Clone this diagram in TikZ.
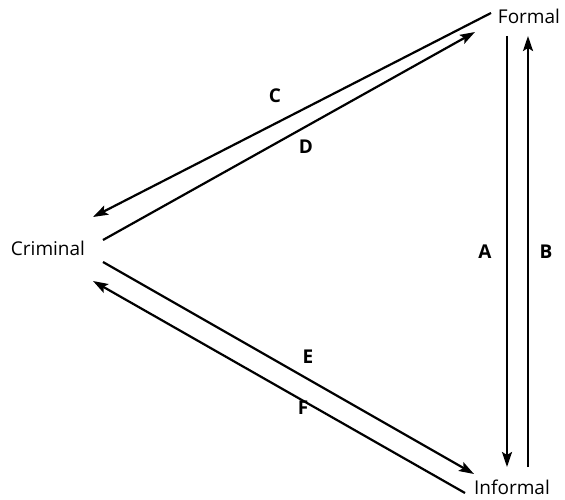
\documentclass[tikz,border=0pt]{standalone}
\usepackage{fontspec}
\setmainfont{Open Sans}
\usetikzlibrary{arrows.meta}
\begin{document}
\begin{tikzpicture}[x=1pt,y=-1pt,
  lbl/.style={font=\fontsize{19}{22}\selectfont},
  blbl/.style={font=\fontsize{19}{22}\selectfont\bfseries},
  conn/.style={line width=2.2pt},
  arr/.style={conn,-{Stealth[length=15pt,width=10pt,inset=3pt]}}]
\useasboundingbox (0,0) rectangle (565,500);
\node[lbl] (formal) at (529,16) {Formal};
\node[lbl] (informal) at (512,487) {Informal};
\node[lbl] (criminal) at (48,248) {Criminal};
\coordinate (c1) at (491,13);
\coordinate (c2) at (93,217);
\coordinate (d1) at (103,240);
\coordinate (d2) at (475,32);
\coordinate (e1) at (103,262);
\coordinate (e2) at (474,474);
\coordinate (f1) at (465,493);
\coordinate (f2) at (93,281);
\coordinate (a1) at (507,36);
\coordinate (a2) at (507,467);
\coordinate (b1) at (528,467);
\coordinate (b2) at (528,36);
\draw[arr] (c1) -- (c2);
\draw[arr] (d1) -- (d2);
\draw[arr] (e1) -- (e2);
\draw[arr] (f1) -- (f2);
\draw[arr] (a1) -- (a2);
\draw[arr] (b1) -- (b2);
\node[blbl] (lc) at (275,96) {C};
\node[blbl] (ld) at (306,147) {D};
\node[blbl] (la) at (485,252) {A};
\node[blbl] (lb) at (546,252) {B};
\node[blbl] (le) at (308,357) {E};
\node[blbl] (lf) at (303,408) {F};
\end{tikzpicture}
\end{document}
